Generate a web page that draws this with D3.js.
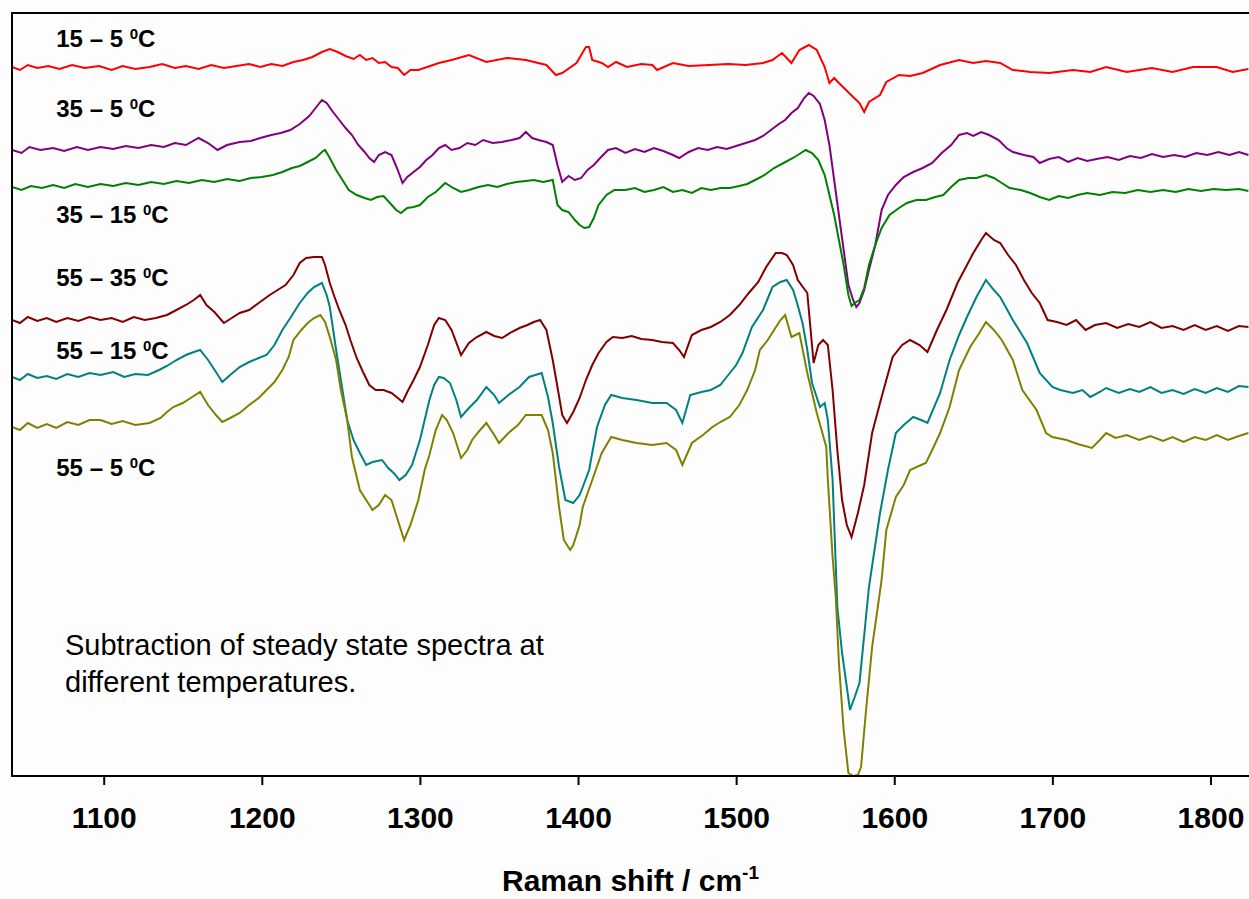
<!DOCTYPE html>
<html lang="en">
<head>
<meta charset="UTF-8">
<title>Raman difference spectra</title>
<script src="https://cdn.jsdelivr.net/npm/d3@7/dist/d3.min.js"></script>
<style>
    body { margin: 0; background: #fdfdfd; }
    svg { display: block; font-family: "Liberation Sans", Arial, sans-serif; }
</style>
</head>
<body>
<script>
// wavenumber (cm-1), intensity (a.u., stacked with offsets)
var spec_15_5 = [[1042,709],[1047,706],[1052,711],[1058,708],[1065,710],[1072,707],[1080,711],[1088,708],[1097,710],[1105,706],[1112,710],[1120,707],[1129,709],[1137,712],[1145,708],[1152,710],[1160,707],[1168,711],[1176,708],[1184,710],[1192,712],[1199,709],[1206,712],[1213,710],[1220,714],[1226,716],[1232,719],[1238,724],[1243,727],[1248,724],[1253,720],[1258,717],[1262,721],[1266,716],[1270,718],[1274,713],[1278,714],[1282,709],[1286,708],[1290,701],[1294,706],[1299,706],[1312,713],[1320,716],[1331,721],[1342,714],[1355,718],[1367,716],[1380,711],[1386,701],[1390,703],[1399,713],[1405,729],[1407,729],[1409,716],[1415,713],[1419,709],[1424,714],[1431,709],[1440,712],[1447,711],[1450,706],[1460,713],[1470,710],[1483,711],[1495,712],[1506,711],[1517,713],[1523,716],[1529,723],[1535,713],[1540,726],[1546,731],[1551,726],[1556,709],[1559,693],[1562,698],[1565,693],[1574,679],[1578,673],[1581,664],[1584,674],[1591,681],[1595,694],[1603,701],[1610,700],[1618,703],[1629,711],[1641,716],[1650,713],[1658,715],[1667,713],[1675,706],[1686,704],[1698,703],[1713,706],[1724,704],[1734,709],[1747,704],[1763,708],[1776,704],[1789,709],[1804,709],[1814,704],[1824,707]];

var spec_35_5 = [[1042,626],[1048,623],[1053,629],[1060,626],[1068,628],[1075,625],[1083,629],[1090,626],[1098,629],[1106,627],[1114,630],[1122,628],[1130,631],[1138,629],[1145,633],[1152,631],[1160,638],[1166,633],[1172,626],[1178,631],[1186,634],[1193,635],[1199,638],[1206,641],[1212,643],[1218,646],[1224,652],[1230,660],[1235,670],[1238,676],[1241,673],[1245,664],[1249,656],[1253,648],[1257,641],[1261,631],[1265,624],[1268,618],[1271,614],[1274,621],[1278,624],[1282,621],[1286,606],[1289,593],[1292,599],[1296,604],[1300,609],[1304,616],[1308,621],[1312,628],[1316,631],[1320,626],[1325,628],[1330,633],[1335,631],[1340,636],[1346,633],[1352,634],[1358,636],[1363,638],[1367,644],[1371,638],[1375,636],[1380,634],[1384,631],[1387,611],[1390,594],[1394,600],[1398,596],[1402,598],[1406,606],[1410,611],[1414,618],[1419,626],[1424,628],[1430,623],[1436,627],[1442,624],[1448,628],[1454,625],[1460,621],[1464,618],[1470,624],[1476,628],[1482,626],[1488,629],[1494,627],[1500,630],[1506,633],[1512,636],[1517,640],[1522,646],[1527,652],[1531,656],[1535,663],[1539,668],[1543,678],[1546,683],[1549,680],[1553,672],[1556,656],[1559,631],[1562,596],[1565,561],[1568,526],[1571,491],[1574,476],[1576,469],[1578,473],[1581,486],[1584,506],[1588,531],[1592,566],[1596,581],[1601,591],[1606,599],[1612,604],[1618,608],[1624,613],[1630,623],[1636,631],[1641,641],[1646,643],[1650,640],[1655,644],[1660,641],[1666,636],[1671,628],[1675,624],[1682,621],[1688,619],[1692,613],[1698,617],[1704,619],[1710,614],[1716,618],[1722,615],[1728,617],[1735,619],[1742,616],[1749,620],[1756,618],[1763,622],[1770,619],[1777,621],[1784,619],[1791,623],[1798,621],[1805,624],[1812,621],[1818,624],[1824,621]];

var spec_35_15 = [[1042,589],[1048,586],[1054,590],[1061,588],[1068,591],[1075,588],[1082,592],[1090,589],[1098,592],[1106,590],[1114,593],[1122,591],[1130,594],[1138,592],[1146,595],[1154,593],[1162,596],[1170,594],[1178,597],[1186,595],[1193,598],[1200,599],[1207,601],[1213,604],[1219,608],[1224,610],[1229,614],[1234,618],[1238,624],[1240,626],[1243,618],[1247,606],[1251,596],[1255,586],[1260,581],[1265,578],[1269,576],[1273,579],[1277,580],[1281,573],[1285,566],[1288,563],[1292,568],[1296,569],[1300,571],[1305,579],[1310,584],[1316,593],[1321,588],[1326,584],[1331,586],[1337,589],[1343,591],[1349,589],[1355,592],[1361,594],[1367,595],[1372,596],[1378,594],[1384,596],[1387,571],[1390,566],[1394,564],[1398,556],[1401,551],[1404,548],[1407,549],[1410,558],[1413,571],[1418,581],[1423,586],[1430,586],[1436,588],[1442,584],[1448,586],[1454,589],[1460,584],[1466,586],[1472,583],[1478,588],[1484,586],[1490,588],[1496,588],[1502,590],[1507,592],[1512,596],[1518,601],[1524,608],[1530,613],[1536,618],[1541,623],[1544,626],[1548,623],[1552,616],[1556,601],[1559,581],[1562,561],[1565,536],[1568,511],[1571,481],[1573,470],[1575,473],[1578,476],[1581,488],[1584,511],[1588,531],[1592,548],[1597,561],[1603,568],[1608,573],[1614,576],[1620,576],[1626,579],[1631,581],[1636,589],[1641,596],[1647,598],[1652,598],[1658,601],[1663,598],[1668,593],[1673,588],[1680,586],[1686,583],[1692,579],[1698,576],[1704,580],[1710,578],[1716,581],[1722,583],[1730,581],[1738,584],[1746,583],[1754,586],[1762,584],[1770,586],[1778,584],[1786,587],[1794,585],[1802,587],[1810,586],[1818,587],[1824,585]];

var spec_55_35 = [[1042,456],[1047,453],[1052,459],[1058,455],[1064,458],[1070,454],[1077,458],[1084,455],[1091,459],[1098,456],[1105,458],[1112,454],[1119,459],[1126,456],[1133,458],[1140,461],[1146,466],[1152,471],[1157,476],[1161,481],[1165,471],[1170,464],[1176,453],[1181,458],[1186,463],[1192,466],[1198,473],[1205,481],[1210,486],[1215,491],[1220,501],[1224,513],[1228,518],[1233,519],[1238,519],[1240,511],[1243,493],[1246,479],[1249,466],[1253,451],[1256,436],[1260,418],[1264,404],[1268,391],[1272,386],[1277,386],[1282,383],[1286,378],[1289,374],[1292,384],[1296,396],[1300,409],[1305,431],[1309,451],[1312,458],[1316,456],[1320,446],[1326,421],[1331,433],[1336,439],[1342,444],[1347,440],[1352,438],[1358,444],[1363,448],[1368,451],[1372,454],[1376,456],[1380,446],[1384,416],[1387,389],[1390,361],[1393,353],[1397,364],[1401,378],[1405,396],[1409,411],[1413,423],[1418,434],[1422,439],[1428,438],[1434,440],[1440,437],[1447,436],[1453,434],[1460,433],[1464,426],[1467,419],[1472,441],[1478,446],[1484,449],[1490,454],[1496,461],[1502,471],[1508,483],[1514,494],[1519,509],[1525,523],[1529,523],[1532,521],[1536,511],[1539,496],[1545,483],[1549,413],[1552,431],[1555,436],[1558,431],[1561,386],[1564,326],[1567,276],[1570,251],[1573,239],[1577,263],[1581,291],[1586,343],[1592,379],[1599,419],[1605,431],[1610,436],[1616,431],[1621,424],[1627,446],[1633,466],[1640,493],[1645,508],[1650,523],[1655,536],[1658,543],[1663,536],[1667,533],[1672,521],[1677,511],[1682,496],[1687,483],[1692,473],[1697,456],[1703,454],[1709,451],[1715,456],[1721,446],[1727,451],[1734,453],[1741,448],[1748,452],[1755,449],[1762,454],[1769,448],[1776,450],[1783,446],[1790,451],[1797,446],[1804,450],[1811,445],[1818,450],[1824,449]];

var spec_55_15 = [[1042,399],[1047,396],[1052,402],[1058,398],[1064,400],[1070,397],[1077,402],[1084,399],[1091,403],[1098,401],[1106,404],[1113,399],[1120,402],[1128,401],[1135,406],[1140,410],[1146,416],[1152,421],[1157,424],[1161,426],[1166,416],[1171,404],[1175,394],[1180,401],[1186,409],[1192,414],[1198,418],[1203,421],[1208,431],[1213,446],[1218,458],[1224,473],[1229,483],[1233,489],[1238,493],[1241,481],[1243,469],[1247,426],[1251,386],[1254,356],[1258,336],[1262,323],[1266,311],[1270,314],[1276,316],[1280,308],[1284,302],[1287,296],[1291,301],[1295,311],[1300,336],[1306,376],[1309,391],[1312,399],[1315,398],[1319,393],[1323,376],[1326,359],[1331,368],[1336,376],[1342,389],[1347,381],[1350,373],[1356,381],[1363,389],[1369,399],[1373,401],[1377,403],[1381,379],[1384,353],[1388,309],[1392,276],[1397,273],[1401,281],[1403,289],[1407,306],[1412,349],[1417,371],[1421,381],[1428,378],[1437,376],[1447,373],[1456,373],[1462,366],[1466,353],[1471,381],[1478,384],[1484,386],[1490,391],[1494,399],[1500,411],[1504,423],[1510,449],[1517,466],[1523,489],[1528,494],[1532,496],[1536,486],[1538,476],[1542,453],[1545,426],[1548,393],[1553,369],[1556,373],[1558,356],[1561,296],[1564,169],[1567,123],[1572,66],[1575,79],[1578,93],[1584,189],[1591,263],[1596,306],[1601,343],[1606,351],[1612,359],[1617,356],[1621,353],[1629,383],[1635,416],[1641,441],[1646,459],[1652,479],[1658,496],[1663,486],[1667,479],[1675,456],[1684,433],[1692,403],[1700,389],[1705,386],[1713,383],[1719,386],[1724,379],[1730,384],[1734,388],[1742,383],[1749,387],[1755,384],[1762,389],[1769,383],[1776,386],[1783,382],[1790,387],[1797,383],[1804,388],[1811,384],[1818,390],[1824,389]];

var spec_55_5 = [[1042,349],[1047,346],[1052,353],[1058,348],[1064,352],[1070,348],[1077,354],[1084,351],[1091,356],[1098,356],[1105,352],[1112,355],[1120,351],[1129,353],[1136,358],[1140,364],[1144,369],[1150,373],[1155,378],[1161,384],[1166,371],[1171,361],[1175,354],[1180,358],[1186,363],[1192,371],[1198,378],[1203,386],[1208,394],[1213,406],[1217,419],[1220,436],[1225,446],[1229,453],[1233,458],[1237,461],[1240,454],[1243,439],[1247,416],[1250,386],[1254,356],[1257,319],[1262,286],[1266,276],[1270,266],[1274,271],[1278,281],[1282,276],[1286,256],[1290,236],[1294,251],[1299,276],[1303,306],[1306,321],[1310,346],[1314,361],[1317,356],[1321,343],[1326,318],[1330,326],[1333,336],[1337,344],[1342,353],[1347,341],[1350,333],[1356,343],[1362,351],[1367,361],[1373,361],[1377,361],[1381,346],[1384,323],[1388,269],[1391,236],[1395,226],[1397,231],[1401,251],[1403,269],[1409,296],[1415,323],[1421,339],[1428,336],[1437,333],[1447,331],[1456,333],[1462,326],[1466,311],[1472,333],[1479,341],[1485,349],[1490,354],[1496,359],[1502,371],[1507,386],[1512,406],[1515,426],[1520,436],[1524,446],[1528,456],[1531,461],[1535,439],[1540,443],[1545,403],[1551,363],[1557,329],[1558,296],[1561,219],[1563,179],[1565,113],[1568,46],[1571,3],[1574,0],[1577,1],[1579,9],[1582,63],[1586,129],[1592,196],[1595,246],[1601,279],[1606,291],[1610,306],[1617,311],[1620,313],[1624,326],[1629,343],[1635,369],[1641,406],[1648,429],[1653,441],[1658,454],[1663,446],[1668,436],[1675,416],[1681,386],[1690,366],[1696,343],[1700,339],[1709,336],[1716,332],[1725,328],[1730,336],[1734,343],[1740,338],[1747,341],[1755,336],[1762,340],[1770,335],[1776,339],[1783,334],[1790,339],[1797,336],[1804,341],[1811,336],[1818,340],[1824,343]];

var seriesNames = ["15 \u2013 5", "35 \u2013 5", "35 \u2013 15", "55 \u2013 35", "55 \u2013 15", "55 \u2013 5"];
var seriesData = [spec_15_5, spec_35_5, spec_35_15, spec_55_35, spec_55_15, spec_55_5];
var seriesColors = ["#ff0000", "#800080", "#008000", "#800000", "#008080", "#808000"];
// label anchor (wavenumber, intensity) for each trace name
var labelPos = [[1070, 729], [1070, 659], [1070, 553], [1070, 490], [1070, 417], [1070, 300]];

var xTicks = [1100, 1200, 1300, 1400, 1500, 1600, 1700, 1800];
var xDomain = [1042, 1825];
var yDomain = [0, 763];
var noteLines = ["Subtraction of steady state spectra at", "different temperatures."];

var W = 1249, H = 899;
var margin = {top: 13, left: 12, bottom: 123};
var plotRight = 1250;

var svg = d3.select("body").append("svg")
    .attr("width", W)
    .attr("height", H);

var x = d3.scaleLinear().domain(xDomain).range([margin.left, plotRight]);
var y = d3.scaleLinear().domain(yDomain).range([H - margin.bottom, margin.top]);

svg.append("clipPath").attr("id", "plotclip")
    .append("rect")
    .attr("x", margin.left)
    .attr("y", margin.top)
    .attr("width", plotRight - margin.left)
    .attr("height", H - margin.bottom - margin.top);

var line = d3.line()
    .x(function(d) { return x(d[0]); })
    .y(function(d) { return y(d[1]); });

svg.append("g").attr("clip-path", "url(#plotclip)")
    .selectAll("path")
    .data(seriesData)
    .enter()
    .append("path")
    .attr("d", line)
    .attr("fill", "none")
    .attr("stroke", function(d, i) { return seriesColors[i]; })
    .attr("stroke-width", 2)
    .attr("stroke-linejoin", "miter");

// frame: top + left lines (right side runs off the picture)
svg.append("line")
    .attr("x1", margin.left).attr("x2", W + 2)
    .attr("y1", margin.top).attr("y2", margin.top)
    .attr("stroke", "#000").attr("stroke-width", 2);
svg.append("line")
    .attr("x1", margin.left).attr("x2", margin.left)
    .attr("y1", margin.top - 1).attr("y2", H - margin.bottom + 1)
    .attr("stroke", "#000").attr("stroke-width", 2);

var xAxis = d3.axisBottom(x)
    .tickValues(xTicks)
    .tickSize(9)
    .tickSizeOuter(0)
    .tickFormat(d3.format("d"));

var gx = svg.append("g")
    .attr("transform", "translate(0," + (H - margin.bottom) + ")")
    .call(xAxis);
gx.select(".domain")
    .attr("d", "M" + margin.left + ",0H" + (W + 2))
    .attr("stroke-width", 2);
gx.selectAll(".tick line").attr("stroke-width", 2);
gx.selectAll(".tick text")
    .attr("y", 52)
    .attr("dy", null)
    .style("font-family", "'Liberation Sans', Arial, sans-serif")
    .style("font-size", "30px")
    .style("font-weight", "bold")
    .attr("fill", "#000");

var title = svg.append("text")
    .attr("x", (margin.left + W) / 2)
    .attr("y", 891)
    .attr("text-anchor", "middle")
    .style("font-size", "30px")
    .style("font-weight", "bold");
title.append("tspan").text("Raman shift / cm");
title.append("tspan").attr("dy", -12).style("font-size", "19px").text("-1");

// trace names
seriesNames.forEach(function(name, i) {
    var t = svg.append("text")
        .attr("x", x(labelPos[i][0]))
        .attr("y", y(labelPos[i][1]))
        .style("font-size", "24px")
        .style("font-weight", "bold")
        .attr("fill", "#000");
    t.append("tspan").text(name + " ");
    t.append("tspan").attr("dy", -8).style("font-size", "15px").text("0");
    t.append("tspan").attr("dy", 8).text("C");
});

// annotation
var note = svg.append("text")
    .attr("x", 65)
    .attr("y", 655)
    .style("font-size", "29px")
    .attr("fill", "#000");
note.selectAll("tspan")
    .data(noteLines)
    .enter()
    .append("tspan")
    .attr("x", 65)
    .attr("dy", function(d, i) { return i === 0 ? 0 : 37; })
    .text(function(d) { return d; });
</script>
</body>
</html>
